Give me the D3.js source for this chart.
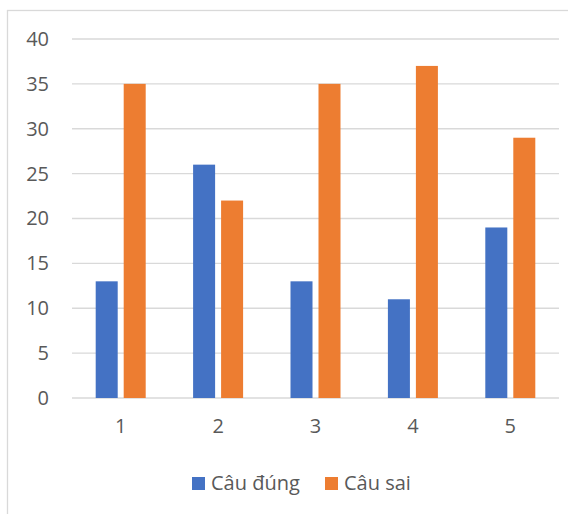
<!DOCTYPE html>
<html>
<head>
<meta charset="utf-8">
<script src="https://cdn.jsdelivr.net/npm/d3@7"></script>
<style>
  body { margin: 0; background: #fff; }
  svg text { font-family: "Open Sans", Lato, sans-serif; fill: #595959; }
</style>
</head>
<body>
<svg id="chart" width="568" height="514"></svg>
<script>
const categories = ["1", "2", "3", "4", "5"];
const seriesNames = ["Câu đúng", "Câu sai"];
const cauDung = [13, 26, 13, 11, 19];
const cauSai = [35, 22, 35, 37, 29];
const yTicks = [0, 5, 10, 15, 20, 25, 30, 35, 40];
const colors = ["#4472C4", "#ED7D31"];
const labelFont = "'Open Sans', Lato, sans-serif";
const labelSize = 20;

const svg = d3.select("#chart");

// chart frame
svg.append("rect")
  .attr("x", 7.5).attr("y", 10.5)
  .attr("width", 580).attr("height", 520)
  .attr("fill", "#fff").attr("stroke", "#d9d9d9").attr("stroke-width", 1.3);

const plot = { left: 72, right: 559, top: 39, bottom: 398 };

const x = d3.scaleBand().domain(categories).range([plot.left, plot.right]);
const x1 = d3.scaleBand().domain(seriesNames).range([0, 50]).paddingInner(0.214);
const y = d3.scaleLinear().domain([0, 40]).range([plot.bottom, plot.top]);

// gridlines
svg.append("g").selectAll("line").data(yTicks).join("line")
  .attr("x1", plot.left).attr("x2", plot.right)
  .attr("y1", d => y(d)).attr("y2", d => y(d))
  .attr("stroke", "#d9d9d9").attr("stroke-width", 1.3);

// y axis labels
const yAxis = d3.axisLeft(y).tickValues(yTicks).tickSize(0).tickPadding(0);
svg.append("g").attr("transform", `translate(49,0)`).call(yAxis)
  .call(g => g.select(".domain").remove())
  .selectAll("text").attr("font-size", labelSize).style("font-family", labelFont).attr("fill", "#595959");

// bars
const series = [cauDung, cauSai];
const groups = svg.append("g").selectAll("g").data(categories).join("g")
  .attr("transform", d => `translate(${x(d) + x.bandwidth() / 2 - 25},0)`);
groups.selectAll("rect")
  .data((d, i) => seriesNames.map((s, k) => ({ s, v: series[k][i], k })))
  .join("rect")
  .attr("x", d => x1(d.s))
  .attr("width", x1.bandwidth())
  .attr("y", d => y(d.v))
  .attr("height", d => plot.bottom - y(d.v))
  .attr("fill", d => colors[d.k]);

// x axis labels
const xAxis = d3.axisBottom(x).tickSize(0).tickPadding(0);
svg.append("g").attr("transform", `translate(0,${plot.bottom + 21})`).call(xAxis)
  .call(g => g.select(".domain").remove())
  .selectAll("text").attr("font-size", labelSize).style("font-family", labelFont).attr("fill", "#595959");

// legend
const legend = svg.append("g");
const legendX = [192, 325];
seriesNames.forEach((s, k) => {
  legend.append("rect").attr("x", legendX[k]).attr("y", 477)
    .attr("width", 13).attr("height", 13).attr("fill", colors[k]);
  legend.append("text").attr("x", legendX[k] + 19).attr("y", 490)
    .attr("font-size", labelSize).style("font-family", labelFont).text(s);
});
</script>
</body>
</html>
